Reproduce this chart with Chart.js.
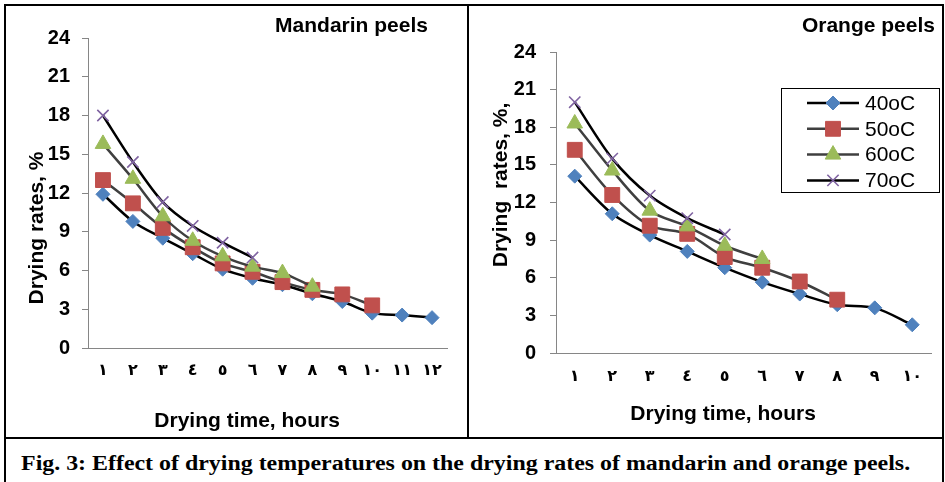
<!DOCTYPE html>
<html>
<head>
<meta charset="utf-8">
<script src="https://cdn.jsdelivr.net/npm/chart.js@4.4.1/dist/chart.umd.min.js"></script>
<style>
  html, body { margin: 0; padding: 0; background: #fff; }
  body { width: 945px; height: 482px; position: relative; overflow: hidden; font-family: 'Liberation Sans', Arial, sans-serif; }
  .ln { position: absolute; background: #000; }
  canvas { position: absolute; }
  .ttl { position: absolute; font: bold 21px 'Liberation Sans', Arial, sans-serif; line-height: 20px; text-align: right; white-space: nowrap; color: #000; }
  #cap { position: absolute; left: -4px; width: 938px; top: 452px; text-align: center; font: bold 20px 'Liberation Serif', 'Times New Roman', serif; line-height: 22px; white-space: nowrap; color: #000; transform: scaleX(1.195); transform-origin: 466px 0; }
</style>
</head>
<body>
<canvas id="c1" width="463" height="433" style="left:5px;top:5px"></canvas>
<canvas id="c2" width="473" height="433" style="left:470px;top:5px"></canvas>

<div class="ttl" style="right:517px;top:15px">Mandarin peels</div>
<div class="ttl" style="right:10px;top:15px">Orange peels</div>
<div id="cap">Fig. 3: Effect of drying temperatures on the drying rates of mandarin and orange peels.</div>

<div class="ln" style="left:4px;top:4px;width:940px;height:2px"></div>
<div class="ln" style="left:4px;top:4px;width:2px;height:478px"></div>
<div class="ln" style="left:942px;top:4px;width:2px;height:478px"></div>
<div class="ln" style="left:467px;top:4px;width:2px;height:434px"></div>
<div class="ln" style="left:4px;top:437px;width:940px;height:2px"></div>

<script>
// ---- data ----
const mandarinHours = ['١','٢','٣','٤','٥','٦','٧','٨','٩','١٠','١١','١٢'];
const orangeHours   = ['١','٢','٣','٤','٥','٦','٧','٨','٩','١٠'];
const seriesNames = ['40oC','50oC','60oC','70oC'];

const mandarin40 = [11.9, 9.8, 8.5, 7.3, 6.1, 5.4, 4.9, 4.2, 3.6, 2.7, 2.55, 2.35];
const mandarin50 = [13.0, 11.2, 9.3, 7.8, 6.55, 5.9, 5.1, 4.5, 4.15, 3.3];
const mandarin60 = [15.8, 13.1, 10.2, 8.3, 7.1, 6.3, 5.8, 4.75];
const mandarin70 = [18.0, 14.4, 11.3, 9.45, 8.15, 7.0];

const orange40 = [14.1, 11.1, 9.4, 8.1, 6.8, 5.65, 4.7, 3.85, 3.6, 2.25];
const orange50 = [16.2, 12.6, 10.15, 9.5, 7.65, 6.8, 5.7, 4.25];
const orange60 = [18.3, 14.55, 11.35, 10.1, 8.55, 7.5];
const orange70 = [20.0, 15.5, 12.55, 10.75, 9.45];

const yTicks = [0, 3, 6, 9, 12, 15, 18, 21, 24];

// ---- styles ----
const lineColors  = ['#000000', '#3f3f3f', '#3f3f3f', '#000000'];
const markColors  = ['#4F81BD', '#C0504D', '#9BBB59', '#8064A2'];
const markStyles  = ['rectRot', 'rect', 'triangle', 'crossRot'];
const markRadius  = [7, 10.5, 9, 8];

function makeSets(arrs) {
  return arrs.map((d, i) => ({
    label: seriesNames[i],
    data: d,
    borderColor: lineColors[i],
    borderWidth: 2.5,
    tension: 0.3,
    pointStyle: markStyles[i],
    pointRadius: markRadius[i],
    pointHoverRadius: markRadius[i],
    pointBackgroundColor: markColors[i],
    pointBorderColor: markColors[i],
    pointBorderWidth: i === 3 ? 1.6 : 1,
    fill: false,
    order: 4 - i
  }));
}

const legendPlugin = {
  id: 'boxLegend',
  afterDraw(chart, args, opts) {
    if (!opts || !opts.show) return;
    const ctx = chart.ctx;
    ctx.save();
    ctx.strokeStyle = '#000';
    ctx.lineWidth = 1;
    ctx.strokeRect(opts.x + 0.5, opts.y + 0.5, opts.w, opts.h);
    chart.data.datasets.forEach((ds, i) => {
      const yy = opts.y + opts.rowTop + i * opts.rowGap;
      ctx.strokeStyle = ds.borderColor;
      ctx.lineWidth = 2.5;
      ctx.beginPath();
      ctx.moveTo(opts.x + opts.lx0, yy);
      ctx.lineTo(opts.x + opts.lx1, yy);
      ctx.stroke();
      ctx.fillStyle = ds.pointBackgroundColor;
      ctx.strokeStyle = ds.pointBorderColor;
      ctx.lineWidth = ds.pointBorderWidth;
      Chart.helpers.drawPoint(ctx, { pointStyle: ds.pointStyle, radius: ds.pointRadius, borderWidth: ds.pointBorderWidth, rotation: 0 },
        opts.x + (opts.lx0 + opts.lx1) / 2, yy);
      ctx.fillStyle = '#000';
      ctx.font = '21px "Liberation Sans", Arial, sans-serif';
      ctx.textBaseline = 'middle';
      ctx.textAlign = 'left';
      ctx.fillText(ds.label, opts.x + opts.tx, yy + 1);
    });
    ctx.restore();
  }
};

function makeChart(id, labels, sets, g) {
  return new Chart(document.getElementById(id), {
    type: 'line',
    data: { labels: labels, datasets: makeSets(sets) },
    plugins: [legendPlugin],
    options: {
      responsive: false,
      animation: false,
      devicePixelRatio: 1,
      layout: { padding: { left: 0, top: g.top, right: g.right, bottom: 0 } },
      plugins: {
        legend: { display: false },
        tooltip: { enabled: false },
        title: { display: false },
        boxLegend: g.legend
      },
      scales: {
        x: {
          type: 'category',
          offset: true,
          grid: { display: false, drawTicks: false },
          border: { display: true, color: '#868686', width: 1 },
          ticks: { color: '#000', font: { family: "'DejaVu Sans', sans-serif", size: 16, weight: 'bold' }, padding: g.xPad, maxRotation: 0, autoSkip: false },
          title: { display: true, text: g.xTitle, color: '#000', font: { family: "'Liberation Sans', Arial, sans-serif", size: 21, weight: 'bold' }, padding: { top: 0, bottom: g.xTitleBottom } },
          afterFit(s) { s.height = g.xH; }
        },
        y: {
          min: 0, max: 24,
          afterBuildTicks(s) { s.ticks = yTicks.map(v => ({ value: v })); },
          grid: { drawOnChartArea: false, drawTicks: true, tickLength: 6, color: '#868686' },
          border: { display: true, color: '#868686', width: 1 },
          ticks: { color: '#000', font: { family: "'Liberation Sans', Arial, sans-serif", size: 20, weight: 'bold' }, padding: g.yPad },
          title: { display: true, text: g.yTitle, color: '#000', font: { family: "'Liberation Sans', Arial, sans-serif", size: 21, weight: 'bold' }, padding: { top: g.yTitleTop, bottom: 0 } },
          afterFit(s) { s.width = g.yW; }
        }
      }
    }
  });
}

// trailing / leading spaces only nudge the centred axis titles as in the original
makeChart('c1', mandarinHours, [mandarin40, mandarin50, mandarin60, mandarin70], {
  top: 33, right: 21, xH: 90, yW: 83, xPad: 13, yPad: 12, xTitleBottom: 4, yTitleTop: 20,
  xTitle: 'Drying time, hours\u00a0\u00a0\u00a0\u00a0\u00a0\u00a0\u00a0',
  yTitle: 'Drying rates, %' + '\u00a0'.repeat(12), legend: { show: false }
});

makeChart('c2', orangeHours, [orange40, orange50, orange60, orange70], {
  top: 47, right: 12, xH: 85, yW: 86, xPad: 14, yPad: 14, xTitleBottom: 11, yTitleTop: 19,
  xTitle: 'Drying time, hours\u00a0\u00a0\u00a0\u00a0\u00a0\u00a0\u00a0',
  yTitle: '\u00a0'.repeat(6) + 'Drying  rates, %,',
  legend: { show: true, x: 311, y: 83, w: 158, h: 104, rowTop: 15, rowGap: 25.8, lx0: 26, lx1: 78, tx: 84 }
});
</script>
</body>
</html>
